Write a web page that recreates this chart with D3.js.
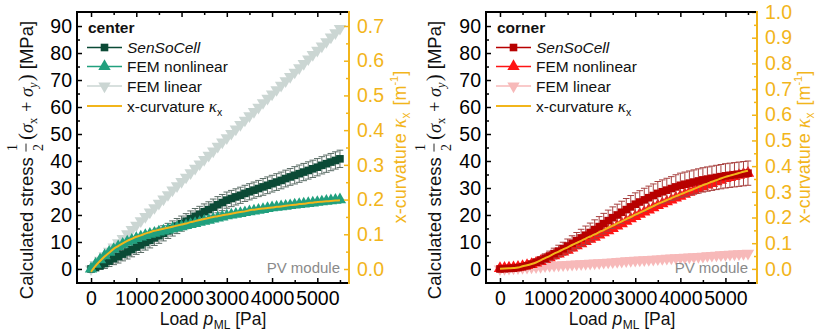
<!DOCTYPE html>
<html><head><meta charset="utf-8">
<script src="https://cdn.jsdelivr.net/npm/d3@7"></script>
<style>
body{margin:0;background:#fff}
svg{display:block}
text{font-family:"Liberation Sans",Arial,sans-serif}
</style>
</head><body>
<svg id="c" width="816" height="334"></svg>
<script>
// ---------------- DATA ----------------
const loads = [0,100,200,300,400,500,600,700,800,900,1000,1100,1200,1300,1400,1500,1600,1700,1800,1900,2000,2100,2200,2300,2400,2500,2600,2700,2800,2900,3000,3100,3200,3300,3400,3500,3600,3700,3800,3900,4000,4100,4200,4300,4400,4500,4600,4700,4800,4900,5000,5100,5200,5300,5400,5500];

const seriesNames = ["SenSoCell","FEM nonlinear","FEM linear","x-curvature"];
const panelTitles = ["center","corner"];

// center panel (stress in MPa, curvature in 1/m)
const centerSenSoCell = [0.0,0.5,1.2,2.0,2.9,3.8,4.6,5.5,6.3,7.2, 8.1,8.9,9.8,10.6,11.5,12.3,13.2,14.1,15.0,15.9, 16.8,17.7,18.6,19.5,20.3,21.2,22.0,22.9,23.8,24.6, 25.5,26.1,26.7,27.3,28.0,28.6,29.2,29.8,30.4,31.0, 31.6,32.2,32.8,33.5,34.1,34.7,35.3,35.9,36.5,37.1, 37.7,38.4,39.0,39.6,40.2,40.8];
const centerSenSoCellErr = [0.5,1.0,1.4,1.8,2.0,2.2,2.4,2.5,2.6,2.7, 2.7,2.8,2.8,2.8,2.8,2.8,2.8,2.8,2.8,2.8, 2.8,2.8,2.9,2.9,2.9,2.9,2.9,3.0,3.0,3.0, 3.0,3.0,3.0,3.0,3.0,3.0,3.0,3.0,3.1,3.1, 3.1,3.1,3.1,3.1,3.1,3.2,3.2,3.2,3.2,3.2, 3.2,3.2,3.2,3.2,3.2,3.2];
const centerFEMnonlinear = [0.0,1.8,3.4,4.9,6.2,7.3,8.3,9.2,10.0,10.7, 11.3,11.9,12.4,12.9,13.3,13.7,14.1,14.5,14.9,15.3, 15.7,16.1,16.5,16.9,17.3,17.7,18.1,18.5,18.9,19.3, 19.7,20.0,20.3,20.6,20.9,21.2,21.5,21.8,22.1,22.4, 22.7,22.9,23.1,23.3,23.5,23.7,23.9,24.1,24.3,24.5, 24.7,24.9,25.1,25.3,25.5,25.7];
const centerFEMlinear = [0,1.6,3.2,4.9,6.5,8.1,9.7,11.3,13.0,14.6, 16.2,17.8,19.4,21.1,22.7,24.3,25.9,27.5,29.2,30.8, 32.4,34.0,35.6,37.3,38.9,40.5,42.1,43.7,45.4,47.0, 48.6,50.2,51.8,53.5,55.1,56.7,58.3,59.9,61.6,63.2, 64.8,66.4,68.0,69.7,71.3,72.9,74.5,76.1,77.8,79.4, 81.0,82.6,84.2,85.9,87.5,89.1];
const centerCurvature = [-0.008,0.009,0.023,0.036,0.047,0.058,0.066,0.074,0.081,0.087, 0.093,0.097,0.102,0.106,0.110,0.113,0.116,0.119,0.122,0.125, 0.128,0.131,0.135,0.138,0.141,0.144,0.147,0.150,0.152,0.155, 0.157,0.159,0.162,0.164,0.166,0.169,0.171,0.173,0.174,0.176, 0.177,0.179,0.180,0.182,0.184,0.185,0.187,0.188,0.190,0.191, 0.193,0.194,0.195,0.196,0.197,0.198];

// corner panel
const cornerSenSoCell = [0.0,0.1,0.2,0.3,0.5,0.8,1.2,1.8,2.5,3.2, 4.0,4.8,5.7,6.6,7.5,8.5,9.5,10.5,11.5,12.5, 13.5,14.6,15.7,16.8,17.9,19.0,20.0,21.0,22.0,23.0, 24.0,24.8,25.6,26.4,27.2,28.0,28.6,29.2,29.8,30.4, 31.0,31.4,31.8,32.2,32.6,33.0,33.3,33.6,33.9,34.2, 34.5,34.7,34.9,35.1,35.3,35.5];
const cornerSenSoCellErr = [0.3,0.3,0.4,0.5,0.6,0.7,0.8,1.0,1.2,1.4, 1.6,1.8,2.0,2.2,2.4,2.6,2.8,3.0,3.2,3.4, 3.5,3.6,3.7,3.8,3.9,4.0,4.0,4.1,4.1,4.2, 4.2,4.2,4.3,4.3,4.3,4.4,4.4,4.4,4.4,4.5, 4.5,4.5,4.5,4.5,4.5,4.5,4.5,4.5,4.5,4.5, 4.5,4.5,4.5,4.5,4.5,4.5];
const cornerFEMnonlinear = [0.2,0.3,0.4,0.5,0.7,1.0,1.3,1.7,2.2,2.8, 3.5,4.2,4.9,5.6,6.3,7.0,7.8,8.6,9.4,10.2, 11.0,11.8,12.6,13.4,14.2,15.0,15.9,16.8,17.7,18.6, 19.5,20.3,21.1,21.9,22.7,23.5,24.2,24.9,25.6,26.3, 27.0,27.7,28.4,29.1,29.8,30.5,31.1,31.7,32.3,32.9, 33.5,33.9,34.3,34.7,35.1,35.5];
const cornerFEMlinear = [0,0.1,0.2,0.3,0.4,0.5,0.6,0.7,0.8,0.9, 1.1,1.2,1.3,1.4,1.5,1.6,1.7,1.8,1.9,2.0, 2.1,2.2,2.3,2.4,2.5,2.6,2.7,2.8,3.0,3.1, 3.2,3.3,3.4,3.5,3.6,3.7,3.8,3.9,4.0,4.1, 4.2,4.3,4.4,4.5,4.6,4.7,4.9,5.0,5.1,5.2, 5.3,5.4,5.5,5.6,5.7,5.8];
const cornerCurvature = [0.000,0.001,0.002,0.003,0.005,0.010,0.014,0.019,0.025,0.033, 0.042,0.050,0.059,0.067,0.076,0.084,0.093,0.101,0.109,0.118, 0.126,0.134,0.143,0.151,0.160,0.168,0.177,0.185,0.194,0.202, 0.211,0.219,0.227,0.236,0.244,0.253,0.260,0.268,0.275,0.283, 0.290,0.297,0.304,0.311,0.318,0.326,0.332,0.339,0.345,0.352, 0.358,0.363,0.368,0.373,0.378,0.382];

// ticks
const xTicks = [0,1000,2000,3000,4000,5000];
const xMinor = [500,1500,2500,3500,4500,5500];
const yTicks = [0,10,20,30,40,50,60,70,80,90];
const yMinor = [5,15,25,35,45,55,65,75,85];
const centerKTicks = [0,0.1,0.2,0.3,0.4,0.5,0.6,0.7];
const centerKMinor = [0.05,0.15,0.25,0.35,0.45,0.55,0.65];
const cornerKTicks = [0,0.1,0.2,0.3,0.4,0.5,0.6,0.7,0.8,0.9,1.0];
const cornerKMinor = [0.05,0.15,0.25,0.35,0.45,0.55,0.65,0.75,0.85,0.95];

// ---------------- DRAW ----------------
const SANS = '"Liberation Sans", Arial, sans-serif';
const SERIF = '"Liberation Serif", "DejaVu Serif", serif';
const YEL = '#f2b51b';
const PT = 12, PB = 283;
const TICKFS = 19.5;
const xDomain = [-310, 5700];
const yDomain = [-5.2, 95.2];
const svg = d3.select('#c');

function rich(parent, pieces, color) {
  const g = parent.append('g');
  let cur = 0;
  pieces.forEach(p => {
    if (p.frac) {
      const w = p.w || 9;
      g.append('text').attr('x', cur + w/2).attr('y', p.ny).attr('text-anchor','middle')
        .style('font-family', SERIF).style('font-size', p.size+'px').attr('fill', color).text(p.frac[0]);
      g.append('text').attr('x', cur + w/2).attr('y', p.dy2).attr('text-anchor','middle')
        .style('font-family', SERIF).style('font-size', p.size+'px').attr('fill', color).text(p.frac[1]);
      g.append('line').attr('x1', cur+0.5).attr('x2', cur+w-0.5).attr('y1', p.by).attr('y2', p.by)
        .attr('stroke', color).attr('stroke-width', 0.9);
      cur += w + (p.gap||2);
      return;
    }
    const t = g.append('text').attr('x', cur).attr('y', p.dy||0)
      .style('font-family', p.font||SANS).style('font-size', p.size+'px')
      .style('font-style', p.italic?'italic':'normal').attr('fill', color)
      .attr('xml:space','preserve').style('white-space','pre').text(p.t);
    cur += t.node().getComputedTextLength() + (p.gap||0);
  });
  return {g, w: cur};
}

function drawPanel(P) {
  const g = svg.append('g');
  const x = d3.scaleLinear().domain(xDomain).range([P.x0, P.x1]);
  const y = d3.scaleLinear().domain(yDomain).range([PB, PT]);
  const k = d3.scaleLinear().domain(P.kDomain).range([PB, PT]);
  const sq = d3.symbol().type(d3.symbolSquare).size(58)();
  const tri = d3.symbol().type(d3.symbolTriangle).size(66)();
  const lineY = d3.line().x((d,i)=>x(loads[i])).y(d=>y(d));
  const lineK = d3.line().x((d,i)=>x(loads[i])).y(d=>k(d)).curve(d3.curveMonotoneX);

  const data = g.append('g');
  data.append('path').datum(P.lin).attr('d', lineY).attr('fill','none').attr('stroke',P.cLin).attr('stroke-width',1.5);
  data.append('g').selectAll('path').data(P.lin).join('path').attr('d', tri)
    .attr('transform',(d,i)=>`translate(${x(loads[i])},${y(d)}) rotate(180)`).attr('fill',P.cLin);

  const drawNon = () => {
    data.append('path').datum(P.non).attr('d', lineY).attr('fill','none').attr('stroke',P.cNon).attr('stroke-width',1.5);
    data.append('g').selectAll('path').data(P.non).join('path').attr('d', tri)
      .attr('transform',(d,i)=>`translate(${x(loads[i])},${y(d)})`).attr('fill',P.cNon);
  };
  const drawSen = () => {
    const eb = data.append('g').attr('stroke',P.cErr).attr('stroke-width',1).attr('fill','none');
    eb.selectAll('path').data(P.sen).join('path').attr('d',(d,i)=>{
      const cx = x(loads[i]), y1 = y(d+P.err[i]), y2 = y(d-P.err[i]);
      return `M${cx},${y1}V${y2}M${cx-3.3},${y1}H${cx+3.3}M${cx-3.3},${y2}H${cx+3.3}`;
    });
    data.append('path').datum(P.sen).attr('d', lineY).attr('fill','none').attr('stroke',P.cSen).attr('stroke-width',1.5);
    data.append('g').selectAll('path').data(P.sen).join('path').attr('d', sq)
      .attr('transform',(d,i)=>`translate(${x(loads[i])},${y(d)})`).attr('fill',P.cSen);
  };
  if (P.nonFirst) { drawNon(); drawSen(); } else { drawSen(); drawNon(); }
  data.append('path').datum(P.kap).attr('d', lineK).attr('fill','none').attr('stroke',YEL).attr('stroke-width',2);

  const styleAx = (s, col, fs) => {
    s.select('.domain').remove();
    s.selectAll('line').attr('stroke', col).attr('stroke-width', 1.5);
    s.selectAll('text').attr('fill', col).style('font-family', SANS).style('font-size', fs+'px');
  };
  g.append('g').attr('transform',`translate(${P.x0},0)`)
    .call(d3.axisLeft(y).tickValues(yTicks).tickSize(-5).tickPadding(5).tickFormat(d3.format('d')))
    .call(s=>styleAx(s,'#000',TICKFS));
  g.append('g').attr('transform',`translate(${P.x0},0)`)
    .call(d3.axisLeft(y).tickValues(yMinor).tickSize(-3).tickFormat(''))
    .call(s=>styleAx(s,'#000',TICKFS));
  g.append('g').attr('transform',`translate(0,${PB})`)
    .call(d3.axisBottom(x).tickValues(xTicks).tickSize(-5).tickFormat(d3.format('d')))
    .call(s=>{styleAx(s,'#000',TICKFS); s.selectAll('text').attr('y',22).attr('dy',0);});
  g.append('g').attr('transform',`translate(0,${PB})`)
    .call(d3.axisBottom(x).tickValues(xMinor).tickSize(-3).tickFormat(''))
    .call(s=>styleAx(s,'#000',TICKFS));
  g.append('g').attr('transform',`translate(0,${PT})`)
    .call(d3.axisTop(x).tickValues(xTicks).tickSize(-5).tickFormat(''))
    .call(s=>styleAx(s,'#000',TICKFS));
  g.append('g').attr('transform',`translate(0,${PT})`)
    .call(d3.axisTop(x).tickValues(xMinor).tickSize(-3).tickFormat(''))
    .call(s=>styleAx(s,'#000',TICKFS));
  g.append('g').attr('transform',`translate(${P.x1},0)`)
    .call(d3.axisRight(k).tickValues(P.kTicks).tickSize(-5).tickPadding(8).tickFormat(d3.format('.1f')))
    .call(s=>styleAx(s,YEL,TICKFS));
  g.append('g').attr('transform',`translate(${P.x1},0)`)
    .call(d3.axisRight(k).tickValues(P.kMinor).tickSize(-3).tickFormat(''))
    .call(s=>styleAx(s,YEL,TICKFS));

  g.append('path').attr('d',`M${P.x1},${PT}H${P.x0}V${PB}H${P.x1}`).attr('fill','none').attr('stroke','#000').attr('stroke-width',2);
  g.append('line').attr('x1',P.x1).attr('x2',P.x1).attr('y1',PT-1).attr('y2',PB+1).attr('stroke',YEL).attr('stroke-width',2);

  g.append('text').attr('x',P.x1-9).attr('y',273).attr('text-anchor','end').attr('fill','#8a8a8a')
    .style('font-size','15px').text('PV module');

  const L = g.append('g');
  L.append('text').attr('x',P.x0+11).attr('y',33).style('font-weight','bold').style('font-size','15.5px').attr('fill','#111').text(P.title);
  const lx0 = P.x0+10, lx1 = P.x0+45, lxm = (lx0+lx1)/2, tx = P.x0+50;
  const rows = [47.5, 66.5, 86, 106];
  const legItems = [
    {c:P.cSen, m:'sq', label:[{t:seriesNames[0], italic:true, size:15.5}]},
    {c:P.cNon, m:'up', label:[{t:seriesNames[1], size:15.5}]},
    {c:P.cLin, m:'down', label:[{t:seriesNames[2], size:15.5}]},
    {c:YEL, m:null, label:[{t:seriesNames[3]+' ', size:15.5},{t:'κ', italic:true, font:SERIF, size:17},{t:'x', size:10.5, dy:4}]}
  ];
  legItems.forEach((it,i)=>{
    const yy = rows[i];
    L.append('line').attr('x1',lx0).attr('x2',lx1).attr('y1',yy).attr('y2',yy).attr('stroke',it.c).attr('stroke-width', it.m?1.6:2);
    if (it.m) L.append('path').attr('d', it.m==='sq'?sq:tri)
      .attr('transform',`translate(${lxm},${yy})${it.m==='down'?' rotate(180)':''}`).attr('fill',it.c);
    const r = rich(L, it.label, '#111');
    r.g.attr('transform',`translate(${tx},${yy+5.5})`);
  });

  const lt = rich(g, [
    {t:'Calculated stress ', size:18.5},
    {frac:['1','2'], size:14, ny:-16, dy2:10, by:-7, w:9, gap:3},
    {t:'(', font:SERIF, size:21},
    {t:'σ', font:SERIF, italic:true, size:18.5},
    {t:'x', font:SERIF, size:12.5, dy:4, gap:1},
    {t:' + ', font:SERIF, size:18.5},
    {t:'σ', font:SERIF, italic:true, size:18.5},
    {t:'y', font:SERIF, italic:true, size:12.5, dy:4, gap:1},
    {t:')', font:SERIF, size:21},
    {t:' [MPa]', size:18.5}
  ], '#111');
  lt.g.attr('transform',`translate(${P.yTitleX},${160}) rotate(-90) translate(${-lt.w/2},0)`);

  const rt = rich(g, [
    {t:'x-curvature ', size:18},
    {t:'κ', font:SERIF, italic:true, size:20},
    {t:'x', size:12, dy:4, gap:2},
    {t:' [m', size:18},
    {t:'-1', size:11, dy:-8},
    {t:']', size:18}
  ], YEL);
  rt.g.attr('transform',`translate(${P.kTitleX},${147}) rotate(-90) translate(${-rt.w/2},0)`);

  const xt = rich(g, [
    {t:'Load ', size:17.5},
    {t:'p', italic:true, size:17.5, gap:0.5},
    {t:'ML', size:12, dy:4},
    {t:' [Pa]', size:17.5}
  ], '#111');
  xt.g.attr('transform',`translate(${P.xTitleCX - xt.w/2},${325})`);
}

drawPanel({
  x0:77, x1:349, title:panelTitles[0],
  kDomain:[-0.0403, 0.7403], kTicks:centerKTicks, kMinor:centerKMinor,
  sen:centerSenSoCell, err:centerSenSoCellErr, non:centerFEMnonlinear, lin:centerFEMlinear, kap:centerCurvature,
  cSen:'#0b4a36', cErr:'#5b6d66', cNon:'#21a07e', cLin:'#cbd6d3', nonFirst:false,
  yTitleX:33, kTitleX:406, xTitleCX:213
});
drawPanel({
  x0:486, x1:757, title:panelTitles[1],
  kDomain:[-0.055, 1.0], kTicks:cornerKTicks, kMinor:cornerKMinor,
  sen:cornerSenSoCell, err:cornerSenSoCellErr, non:cornerFEMnonlinear, lin:cornerFEMlinear, kap:cornerCurvature,
  cSen:'#b70000', cErr:'#a8403f', cNon:'#ff1414', cLin:'#f7b9b9', nonFirst:true,
  yTitleX:441, kTitleX:810, xTitleCX:622
});
</script>
</body></html>
